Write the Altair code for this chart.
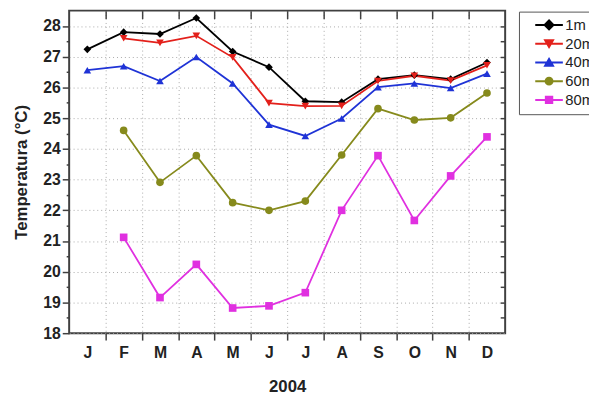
import altair as alt
import pandas as pd

months = ["J", "F", "M", "A", "M", "J", "J", "A", "S", "O", "N", "D"]
series = ["1m", "20m", "40m", "60m", "80m"]
t1 = [27.24, 27.80, 27.74, 28.26, 27.17, 26.66, 25.55, 25.52, 26.27, 26.40, 26.27, 26.81]
t20 = [None, 27.60, 27.45, 27.68, 26.98, 25.49, 25.39, 25.40, 26.21, 26.38, 26.22, 26.72]
t40 = [26.56, 26.69, 26.21, 26.99, 26.13, 24.79, 24.42, 24.99, 26.01, 26.13, 25.98, 26.45]
t60 = [None, 24.60, 22.91, 23.78, 22.25, 22.00, 22.30, 23.80, 25.31, 24.94, 25.01, 25.82]
t80 = [None, 21.12, 19.16, 20.24, 18.82, 18.89, 19.32, 22.00, 23.78, 21.67, 23.12, 24.39]
colors = ["#000000", "#e3201b", "#1f33d6", "#868a1c", "#e030e0"]
shapes = ["diamond", "triangle-down", "triangle-up", "circle", "square"]

rows = []
for name, shp, vals in zip(series, shapes, [t1, t20, t40, t60, t80]):
    for i, v in enumerate(vals):
        if v is not None:
            rows.append({"series": name, "marker": shp, "month": i + 1, "temp": v})
df = pd.DataFrame(rows)

W, H = 442, 327
xs = alt.Scale(domain=[0.5, 12.5], nice=False, zero=False)
ys = alt.Scale(domain=[18, 28.5], nice=False, zero=False)
cs = alt.Scale(domain=series, range=colors)

line_path = "M-2.8,0H2.8"
legend_paths = [
    line_path + "M-0.9,0L0,-0.9L0.9,0L0,0.9Z",
    line_path + "M-0.8,-0.7L0.8,-0.7L0,0.7Z",
    line_path + "M-0.8,0.7L0.8,0.7L0,-0.7Z",
    line_path + "M0.7,0A0.7,0.7,0,1,1,-0.7,0A0.7,0.7,0,1,1,0.7,0Z",
    line_path + "M-0.65,-0.65H0.65V0.65H-0.65Z",
]
ls = alt.Scale(domain=series, range=legend_paths)

legend = alt.Legend(
    title=None, orient="none", legendX=456, legendY=1,
    strokeColor="#555555", padding=6, labelFont="Liberation Sans",
    labelFontSize=15, labelColor="#222222", symbolSize=100, symbolStrokeWidth=2,
    symbolOffset=17, labelOffset=9, rowPadding=3, symbolOpacity=1,
)

month_expr = "[" + ",".join(f"'{m}'" for m in months) + "][datum.value - 1]"

lines = alt.Chart(df).mark_line(strokeWidth=1.8).encode(
    x=alt.X("month:Q", scale=xs, axis=alt.Axis(
        values=list(range(1, 13)), labelExpr=month_expr, ticks=False, grid=False,
        domain=False, title="2004", labelPadding=12, titlePadding=18,
        orient="bottom")),
    y=alt.Y("temp:Q", scale=ys, axis=alt.Axis(
        values=list(range(18, 29)), grid=True, tickSize=7, domain=False,
        title="Temperatura (°C)", titlePadding=12, orient="left")),
    color=alt.Color("series:N", scale=cs, legend=legend),
    detail="series:N",
)

points = alt.Chart(df).mark_point(filled=True, opacity=1, size=60).encode(
    x=alt.X("month:Q", scale=xs, axis=None),
    y=alt.Y("temp:Q", scale=ys, axis=None),
    color=alt.Color("series:N", scale=cs, legend=legend),
    shape=alt.Shape("marker:N", scale=None),
)

legend_layer = alt.Chart(df).mark_point(filled=True, opacity=0).encode(
    x=alt.X("month:Q", scale=xs, axis=None),
    y=alt.Y("temp:Q", scale=ys, axis=None),
    color=alt.Color("series:N", scale=cs, legend=legend),
    shape=alt.Shape("series:N", scale=ls, legend=legend),
)

halves_x = [i + 0.5 for i in range(1, 12)]
minor_y = [18.5 + i for i in range(10)]
all_y = [18 + 0.5 * i for i in range(1, 21)]

ticks_a = alt.Chart(df).mark_point(opacity=0).encode(
    x=alt.X("month:Q", scale=xs, axis=alt.Axis(
        values=halves_x, labels=False, grid=True, tickSize=7, domain=False,
        title=None, orient="bottom")),
    y=alt.Y("temp:Q", scale=ys, axis=alt.Axis(
        values=minor_y, labels=False, grid=False, tickSize=3, domain=False,
        title=None, orient="left")),
)

ticks_b = alt.Chart(df).mark_point(opacity=0).encode(
    x=alt.X("month:Q", scale=xs, axis=alt.Axis(
        values=halves_x, labels=False, grid=False, tickSize=8, domain=False,
        title=None, orient="bottom", offset=-H)),
    y=alt.Y("temp:Q", scale=ys, axis=alt.Axis(
        values=all_y, labels=False, grid=False, tickSize=5, domain=False,
        title=None, orient="left", offset=-W)),
)

chart = alt.layer(ticks_a, ticks_b, lines, points, legend_layer).resolve_axis(
    x="independent", y="independent"
).properties(
    width=W, height=H,
    autosize=alt.AutoSizeParams(type="none"),
    padding={"left": 62, "top": 0, "right": 85, "bottom": 61},
).configure_view(
    stroke="#404040", strokeWidth=2
).configure_axis(
    labelFont="Liberation Sans", labelFontWeight="bold", labelFontSize=16,
    labelColor="#222222", titleFont="Liberation Sans", titleFontWeight="bold",
    titleFontSize=17, titleColor="#222222", tickColor="#404040", tickWidth=1.5,
    gridColor="#aaaaaa", gridDash=[1, 3], gridWidth=1,
)

chart.save("out.html", embed_options={"renderer": "svg", "actions": False})
